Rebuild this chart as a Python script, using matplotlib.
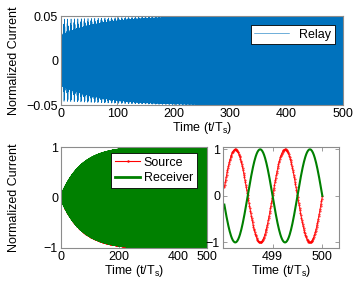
import numpy as np
import matplotlib
matplotlib.use("Agg")
from matplotlib import pyplot as plt

# 数据（从图上读出的参数）
t_end = 500                # 时间范围 t/Ts
samples_per_period = 40    # 每个周期的采样点
carrier_periods = 1.0      # 载波周期（t/Ts）

# 继电器电流：核心包络 + 早期尖峰
relay_core_start = 0.028
relay_core_final = 0.05
relay_core_tau = 70
relay_spike_amp = 0.019
relay_spike_tau = 60
relay_spike_period = 6.0

# 源 / 接收端包络
rx_final = 1.0
rx_tau = 70

# 放大区间
zoom_start = 498.03
zoom_end = 500.0
zoom_points = 220

xticks_top = [0, 100, 200, 300, 400, 500]
yticks_top = [-0.05, 0, 0.05]
ytick_labels_top = ["\u22120.05", "0", "0.05"]
xticks_bl = [0, 200, 400, 500]
yticks_b = [-1, 0, 1]
ytick_labels_b = ["\u22121", "0", "1"]
xticks_br = [499, 500]

blue = "#0072BD"
red = "#FF0000"
green = "#008000"
frame = "#8c8c8c"

plt.rcParams["font.family"] = ["Liberation Sans", "DejaVu Sans"]
plt.rcParams["font.size"] = 9
plt.rcParams["mathtext.default"] = "regular"

t = np.linspace(0, t_end, t_end * samples_per_period + 1)
carrier = np.sin(2 * np.pi * t / carrier_periods)

relay_env = relay_core_final - (relay_core_final - relay_core_start) * np.exp(-t / relay_core_tau)
relay_env = relay_env + relay_spike_amp * np.exp(-t / relay_spike_tau) * np.cos(np.pi * t / relay_spike_period) ** 4
relay_env = np.minimum(relay_env, 0.05)
relay = relay_env * np.sin(2 * np.pi * t / carrier_periods + 0.7)

rx_env = rx_final * (1 - np.exp(-t / rx_tau))
source = rx_env * carrier
receiver = -rx_env * carrier

tz = np.linspace(zoom_start, zoom_end, zoom_points)
source_z = np.sin(2 * np.pi * (tz - zoom_end) / carrier_periods)
receiver_z = -source_z


def style(ax):
    for s in ax.spines.values():
        s.set_color(frame)
        s.set_linewidth(0.8)
    ax.tick_params(direction="in", length=3, width=0.6, color=frame,
                   top=True, right=True, labelsize=9, pad=2)


fig = plt.figure(figsize=(3.6, 2.97), dpi=100)

# 上图：Relay
ax1 = fig.add_axes([0.169, 0.646, 0.784, 0.300])
ax1.plot(t, relay, color=blue, linewidth=0.4, label="Relay")
ax1.set_xlim(0, 500)
ax1.set_ylim(-0.05, 0.05)
ax1.set_xticks(xticks_top)
ax1.set_yticks(yticks_top, ytick_labels_top)
ax1.set_xlabel("Time (t/T$_s$)", labelpad=0)
ax1.set_ylabel("Normalized Current")
ax1.yaxis.set_label_coords(-0.145, 0.5)
style(ax1)
leg = ax1.legend(loc="upper right", fancybox=False, edgecolor="black",
                 framealpha=1, borderpad=0.3, handlelength=2.8,
                 borderaxespad=0, bbox_to_anchor=(0.972, 0.90))
leg.get_frame().set_linewidth(0.6)

# 左下图：Source / Receiver
ax2 = fig.add_axes([0.169, 0.165, 0.406, 0.340])
ax2.plot(t, source, color=red, linewidth=0.8, marker=".", markersize=1.5, label="Source")
ax2.plot(t, receiver, color=green, linewidth=2, label="Receiver")
ax2.set_xlim(0, 500)
ax2.set_ylim(-1, 1)
ax2.set_xticks(xticks_bl)
ax2.set_yticks(yticks_b, ytick_labels_b)
ax2.set_xlabel("Time (t/T$_s$)", labelpad=0)
ax2.set_ylabel("Normalized Current")
ax2.yaxis.set_label_coords(-0.28, 0.5)
style(ax2)
leg2 = ax2.legend(loc="upper right", fancybox=False, edgecolor="black",
                  framealpha=1, borderpad=0.3, handlelength=2.0,
                  labelspacing=0.25, handletextpad=0.3,
                  borderaxespad=0, bbox_to_anchor=(0.93, 0.94))
leg2.get_frame().set_linewidth(0.6)

# 右下图：放大
ax3 = fig.add_axes([0.619, 0.165, 0.322, 0.340])
ax3.plot(tz, source_z, color=red, linewidth=0.6, marker=".", markersize=0.9)
ax3.plot(tz, receiver_z, color=green, linewidth=1.5)
ax3.set_xlim(498.0, 500.33)
ax3.set_ylim(-1.12, 1.05)
ax3.set_xticks(xticks_br)
ax3.set_yticks(yticks_b, ytick_labels_b)
ax3.set_xlabel("Time (t/T$_s$)", labelpad=0)
style(ax3)

fig.savefig("out.png", dpi=100)
